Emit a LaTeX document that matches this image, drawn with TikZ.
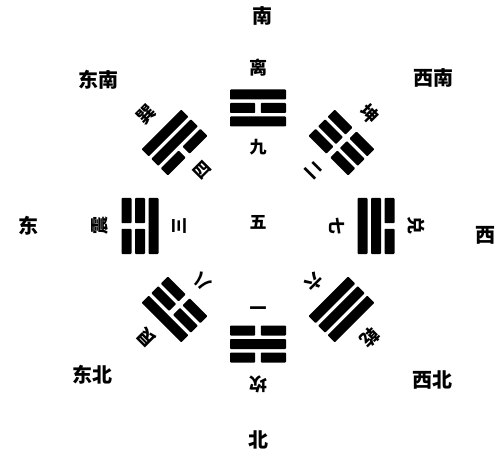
\documentclass[tikz,border=0pt]{standalone}
\usepackage{fontspec}
\newfontfamily\cjk{Noto Sans CJK SC}
\tikzset{
  dirlabel/.style={font=\cjk\bfseries\fontsize{20}{20}\selectfont, inner sep=0pt},
  gualabel/.style={font=\cjk\bfseries\fontsize{18}{18}\selectfont, inner sep=0pt},
  numlabel/.style={font=\cjk\bfseries\fontsize{17}{17}\selectfont, inner sep=0pt},
  yaobar/.style={fill=black, rounded corners=0.8pt},
}
\newcommand\yao[2]{%
  \ifnum#2=1
    \fill[yaobar] (-28,#1-5) rectangle (28,#1+5);
  \else
    \fill[yaobar] (-28,#1-5) rectangle (-2.8,#1+5);
    \fill[yaobar] (2.8,#1-5) rectangle (28,#1+5);
  \fi}
\begin{document}
\begin{tikzpicture}[x=1pt,y=1pt]
\useasboundingbox[fill=white] (0,0) rectangle (500,461);
\coordinate (C) at (258,235);
% trigrams: angle / bottom / middle / top / name / number / id
\foreach \a/\b/\m/\t/\nm/\num/\id in {
  90/1/0/1/离/九/li, 45/0/0/0/坤/二/kun, 0/1/1/0/兑/七/dui, -45/1/1/1/乾/六/qian,
  -90/0/1/0/坎/一/kan, -135/0/0/1/艮/八/gen, 180/1/0/0/震/三/zhen, 135/0/1/1/巽/四/xun}{
  \begin{scope}[shift={(C)}, rotate=\a-90]
    \yao{104.5}{\b}
    \yao{118}{\m}
    \yao{131.5}{\t}
  \end{scope}
  \node[gualabel, rotate=\a-90] (name-\id) at ([shift={(\a:158)}]C) {\nm};
  \node[numlabel, rotate=\a-90] (num-\id) at ([shift={(\a:79)}]C) {\num};
}
\node[numlabel] (center) at (258,239) {五};
% directions
\node[dirlabel] (s)  at (262,445) {南};
\node[dirlabel] (se) at (98,381) {东南};
\node[dirlabel] (sw) at (433,383) {西南};
\node[dirlabel] (e)  at (28,235) {东};
\node[dirlabel] (w)  at (485,226) {西};
\node[dirlabel] (ne) at (92,86) {东北};
\node[dirlabel] (nw) at (432,81) {西北};
\node[dirlabel] (n)  at (258,21) {北};
\end{tikzpicture}
\end{document}
